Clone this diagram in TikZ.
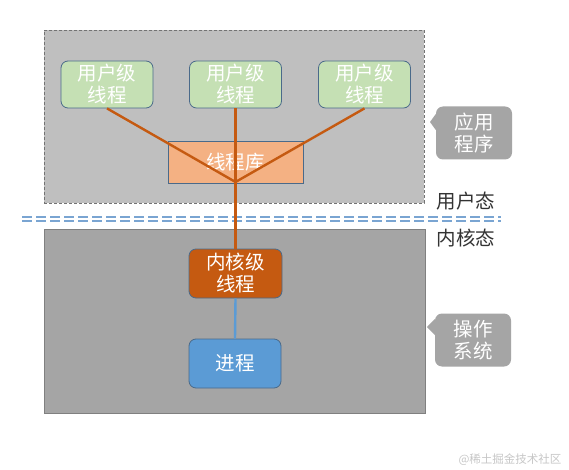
\documentclass[tikz,border=0pt]{standalone}
\usepackage{fontspec}
\setmainfont{Noto Sans CJK SC}
\begin{document}
\begin{tikzpicture}[x=1pt,y=-1pt,
  txt/.style={font=\fontsize{19.5}{22}\selectfont, align=center},
  userbox/.style={txt, draw=boxedge, line width=0.8pt, fill=ugreen, rounded corners=7pt, text=white, minimum width=92pt, minimum height=47pt, inner sep=0pt},
  libbox/.style={txt, draw=boxedge, line width=0.8pt, fill=libor, text=white, minimum width=135pt, minimum height=42pt, inner sep=0pt},
  kbox/.style={txt, draw=boxedge, line width=0.8pt, fill=kor, rounded corners=7pt, text=white, minimum width=93pt, minimum height=49pt, inner sep=0pt},
  pbox/.style={txt, draw=boxedge, line width=0.8pt, fill=pblue, rounded corners=7pt, text=white, minimum width=92pt, minimum height=49pt, inner sep=0pt},
  callout/.style={txt, fill=cgrey, rounded corners=7pt, text=white, minimum width=76pt, minimum height=53pt, inner sep=0pt},
  statelbl/.style={txt, text=black!80},
  oline/.style={draw=kor, line width=2.4pt},
  bline/.style={draw=pblue, line width=2.4pt}
]
\definecolor{ugreen}{HTML}{C5E0B4}
\definecolor{boxedge}{HTML}{4A6A8A}
\definecolor{libor}{HTML}{F4B183}
\definecolor{kor}{HTML}{C55A11}
\definecolor{pblue}{HTML}{5B9BD5}
\definecolor{cgrey}{HTML}{A5A5A5}
\definecolor{upgrey}{HTML}{BFBFBF}
\definecolor{lowgrey}{HTML}{A5A5A5}
\definecolor{sepblue}{HTML}{7AA5D2}

\useasboundingbox (0,0) rectangle (569,470);
\fill[white] (0,0) rectangle (569,470);

% regions
\node[draw=black!55, dashed, dash pattern=on 3pt off 2pt, fill=upgrey, minimum width=380pt, minimum height=173pt, inner sep=0pt] (user) at (234,116.5) {};
\node[draw=black!50, line width=0.8pt, fill=lowgrey, minimum width=381pt, minimum height=184pt, inner sep=0pt] (kern) at (234.5,321) {};

% separator
\coordinate (sepL) at (22,217);
\coordinate (sepR) at (501,217);
\draw[sepblue, line width=1.3pt, dash pattern=on 10pt off 4pt] (sepL) -- (sepR);
\draw[sepblue, line width=1.3pt, dash pattern=on 10pt off 4pt] ([yshift=-4pt]sepL) -- ([yshift=-4pt]sepR);

% nodes
\node[libbox] (lib) at (235.5,162) {线程库};
\node[userbox] (u1) at (107,84.5) {用户级\\线程};
\node[userbox] (u2) at (235.5,84.5) {用户级\\线程};
\node[userbox] (u3) at (364.5,84.5) {用户级\\线程};
\node[kbox] (k) at (235.5,273.5) {内核级\\线程};
\node[pbox] (p) at (235,363.5) {进程};

% connectors
\coordinate (conv) at (235.5,182);
\draw[oline] (u1.south) -- (conv);
\draw[oline] (u3.south) -- (conv);
\draw[oline] (u2.south) -- (k.north);
\draw[bline] (k.south) -- (p.north);

% callouts
\node[callout] (c1) at (474,133) {应用\\程序};
\fill[cgrey] (c1.west |- 0,114) -- (430,122) -- (c1.west |- 0,130) -- cycle;
\node[callout] (c2) at (473,340) {操作\\系统};
\fill[cgrey] (c2.west |- 0,319) -- (427,327) -- (c2.west |- 0,335) -- cycle;

% state labels
\node[statelbl] (ust) at (466,201) {用户态};
\node[statelbl] (kst) at (466,238) {内核态};

% watermark
\node[font=\fontsize{11.5}{13}\selectfont, text=black!22, anchor=east] (wm) at (565,460) {@稀土掘金技术社区};
\end{tikzpicture}
\end{document}
